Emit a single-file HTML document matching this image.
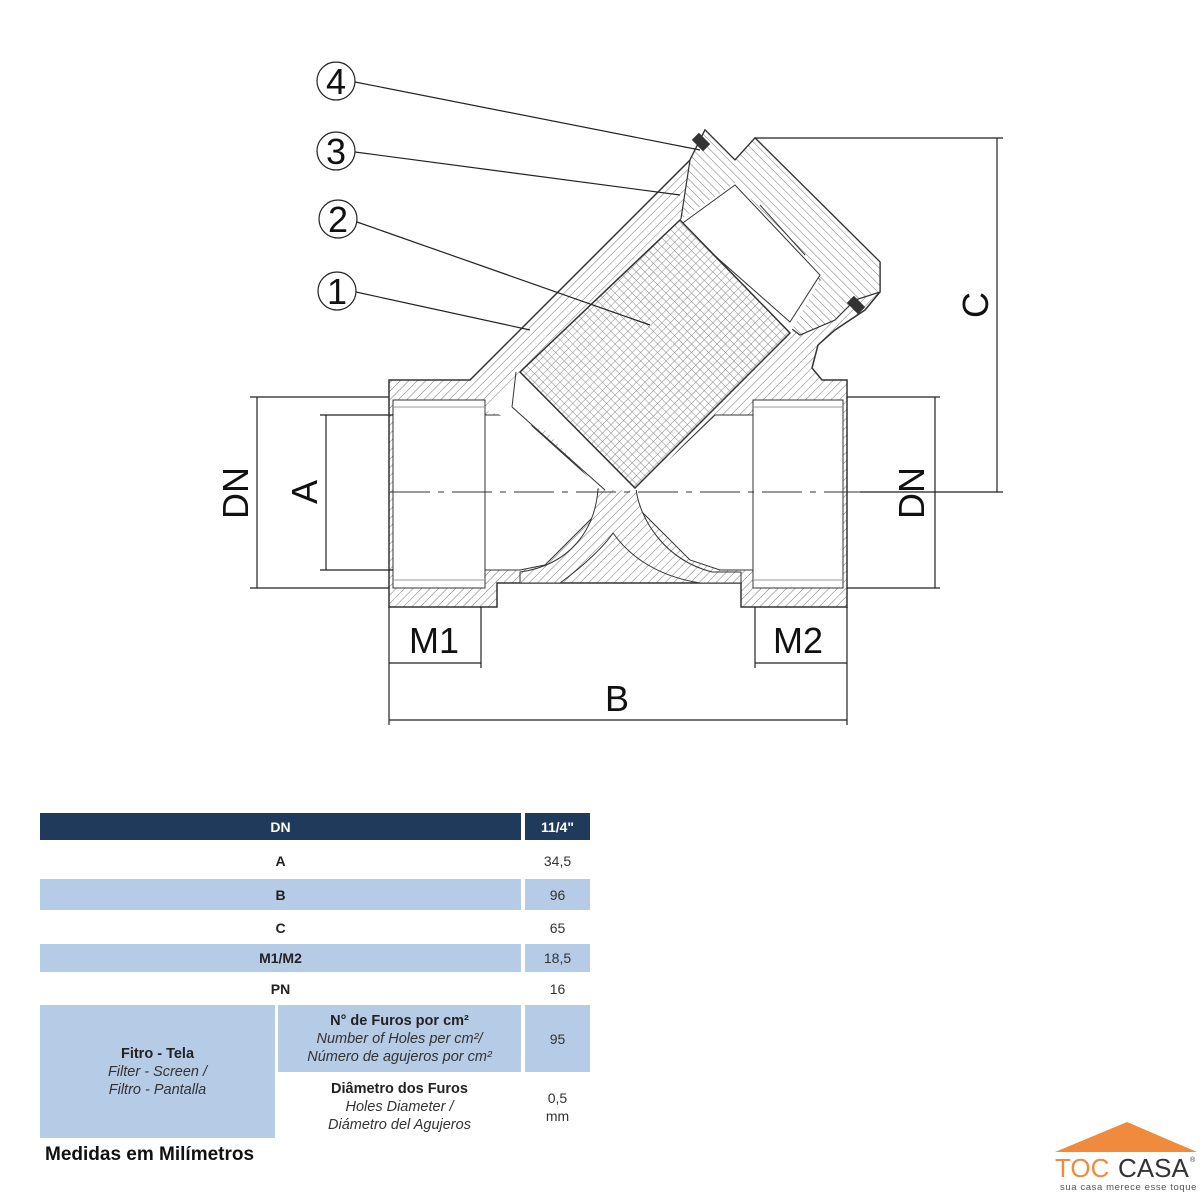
<!DOCTYPE html>
<html><head><meta charset="utf-8"><style>
body{margin:0;width:1200px;height:1200px;background:#fff;position:relative;overflow:hidden;font-family:"Liberation Sans",sans-serif}
svg{position:absolute;left:0;top:0}
.t{position:absolute;display:flex;align-items:center;justify-content:center;text-align:center;font-size:14px;color:#333;line-height:18px}
.b{font-weight:bold;color:#222}
.blue{background:#b6cbe6}
.i{font-style:italic;font-size:14.5px}
</style></head><body>
<svg width="1200" height="1200" viewBox="0 0 1200 1200">
<defs>
<pattern id="h" width="6" height="6" patternUnits="userSpaceOnUse" patternTransform="rotate(45)"><rect width="6" height="6" fill="#fff"/><line x1="0" y1="0" x2="0" y2="6" stroke="#777" stroke-width="1"/></pattern>
<pattern id="h2" width="6" height="6" patternUnits="userSpaceOnUse" patternTransform="rotate(-45)"><rect width="6" height="6" fill="#fff"/><line x1="0" y1="0" x2="0" y2="6" stroke="#777" stroke-width="1"/></pattern>
<pattern id="m" width="6" height="6" patternUnits="userSpaceOnUse" patternTransform="rotate(45)"><rect width="6" height="6" fill="#fff"/><path d="M0 0H6M0 0V6" stroke="#888" stroke-width="1"/></pattern>
</defs>
<polygon points="389,380 470,380 640,210 655,195 690,160 705,130 735,160 755,138 880,262 880,292 865,310 835,330 818,345 812,368 822,380 847,380 847,607 741,607 741,583 497,583 497,607 389,607" fill="url(#h)" stroke="#333" stroke-width="1.5"/>
<polygon points="690,160 705,130 735,160 755,138 880,262 880,292 855,300 835,320 800,335 780,320 820,280 760,215 730,220 680,225" fill="url(#h2)" stroke="#333" stroke-width="1.2"/>
<rect x="393" y="400" width="92" height="188" fill="#fff" stroke="#333"/>
<rect x="753" y="400" width="90" height="188" fill="#fff" stroke="#333"/>
<polygon points="485,415 520,415 600,487 640,487 715,415 753,415 753,570 720,570 690,560 650,520 620,490 580,530 545,565 520,570 485,570" fill="#fff" stroke="#333"/>
<path d="M598,489 C595,530 570,565 520,572 L520,583 L560,583 C585,565 605,545 613,533 C625,550 650,575 700,583 L741,583 L741,572 L712,572 C665,560 640,520 636,489 Z" fill="url(#h)" stroke="#333"/>
<polygon points="485,410 520,372 680,220 740,180 760,215 820,280 790,333 640,490 600,490 545,430" fill="#fff" stroke="none"/>
<polygon points="680,225 735,185 820,275 790,322" fill="#fff" stroke="#333"/>
<line x1="760" y1="205" x2="805" y2="255" stroke="#333"/>
<polygon points="520,372 680,220 790,333 635,488" fill="url(#m)" stroke="#333" stroke-width="1.5"/>
<line x1="516" y1="372" x2="512" y2="407" stroke="#333"/>
<line x1="512" y1="407" x2="605" y2="490" stroke="#333"/>
<rect x="693" y="137" width="16" height="10" fill="#333" transform="rotate(45 701 142)"/>
<rect x="848" y="300" width="16" height="10" fill="#333" transform="rotate(45 856 305)"/>
<line x1="393" y1="407" x2="485" y2="407" stroke="#999"/><line x1="393" y1="580" x2="485" y2="580" stroke="#999"/>
<line x1="753" y1="407" x2="843" y2="407" stroke="#999"/><line x1="753" y1="580" x2="843" y2="580" stroke="#999"/>
<line x1="390" y1="492" x2="860" y2="492" stroke="#333" stroke-dasharray="40,8,6,8"/>
<g stroke="#222" stroke-width="1.2" fill="none">
<line x1="250" y1="397" x2="389" y2="397"/><line x1="250" y1="588" x2="389" y2="588"/>
<line x1="257" y1="397" x2="257" y2="588"/>
<line x1="320" y1="415" x2="393" y2="415"/><line x1="320" y1="570" x2="393" y2="570"/>
<line x1="326" y1="415" x2="326" y2="570"/>
<line x1="847" y1="397" x2="940" y2="397"/><line x1="847" y1="588" x2="940" y2="588"/>
<line x1="935" y1="397" x2="935" y2="588"/>
<line x1="755" y1="138" x2="1003" y2="138"/><line x1="860" y1="492" x2="1003" y2="492"/>
<line x1="997" y1="138" x2="997" y2="492"/>
<line x1="389" y1="607" x2="389" y2="725"/><line x1="481" y1="607" x2="481" y2="668"/>
<line x1="755" y1="607" x2="755" y2="668"/><line x1="847" y1="607" x2="847" y2="725"/>
<line x1="389" y1="663" x2="481" y2="663"/><line x1="755" y1="663" x2="847" y2="663"/>
<line x1="389" y1="720" x2="847" y2="720"/>
<line x1="355" y1="82" x2="700" y2="150"/><line x1="355" y1="152" x2="680" y2="195"/>
<line x1="357" y1="222" x2="650" y2="325"/><line x1="356" y1="292" x2="530" y2="330"/>
<circle cx="336" cy="81" r="19"/><circle cx="336" cy="151" r="19"/><circle cx="338" cy="219" r="19"/><circle cx="337" cy="291" r="19"/>
</g>
<g fill="#111" font-family="Liberation Sans" font-size="36" text-anchor="middle">
<text x="336" y="94">4</text><text x="336" y="164">3</text><text x="338" y="232">2</text><text x="337" y="304">1</text>
<text x="434" y="653">M1</text><text x="798" y="653">M2</text><text x="617" y="711">B</text>
<text transform="translate(248,493) rotate(-90)">DN</text>
<text transform="translate(317,492) rotate(-90)">A</text>
<text transform="translate(924,493) rotate(-90)">DN</text>
<text transform="translate(988,305) rotate(-90)">C</text>
</g>
<polygon points="1055,1152 1127,1122 1197,1152" fill="#f08a3c"/>
<text x="1055" y="1177" font-size="26" fill="#f08a3c" font-family="Liberation Sans">TOC</text>
<text x="1118" y="1177" font-size="26" fill="#333" font-family="Liberation Sans">CASA</text>
<text x="1190" y="1162" font-size="7" fill="#333">®</text>
<text x="1060" y="1190" font-size="9.5" fill="#555" font-family="Liberation Sans" letter-spacing="0.6">sua casa merece esse toque</text>
</svg>
<div class="t b" style="left:40px;top:813px;width:481px;height:27px;background:#1f3a5a;color:#fff">DN</div>
<div class="t b" style="left:525px;top:813px;width:65px;height:27px;background:#1f3a5a;color:#fff">11/4"</div>
<div class="t b" style="left:40px;top:845px;width:481px;height:32px">A</div>
<div class="t" style="left:525px;top:845px;width:65px;height:32px">34,5</div>
<div class="t b blue" style="left:40px;top:879px;width:481px;height:31px">B</div>
<div class="t blue" style="left:525px;top:879px;width:65px;height:31px">96</div>
<div class="t b" style="left:40px;top:912px;width:481px;height:31px">C</div>
<div class="t" style="left:525px;top:912px;width:65px;height:31px">65</div>
<div class="t b blue" style="left:40px;top:944px;width:481px;height:28px">M1/M2</div>
<div class="t blue" style="left:525px;top:944px;width:65px;height:28px">18,5</div>
<div class="t b" style="left:40px;top:975px;width:481px;height:28px">PN</div>
<div class="t" style="left:525px;top:975px;width:65px;height:28px">16</div>
<div class="t blue" style="left:40px;top:1005px;width:235px;height:133px;flex-direction:column"><span class="b" style="font-size:14.5px">Fitro - Tela</span><span class="i">Filter - Screen /</span><span class="i">Filtro - Pantalla</span></div>
<div class="t blue" style="left:278px;top:1005px;width:243px;height:67px;flex-direction:column"><span class="b" style="font-size:14.5px">N° de Furos por cm²</span><span class="i">Number of Holes per cm²/</span><span class="i">Número de agujeros por cm²</span></div>
<div class="t blue" style="left:525px;top:1005px;width:65px;height:67px">95</div>
<div class="t" style="left:278px;top:1075px;width:243px;height:63px;flex-direction:column"><span class="b" style="font-size:14.5px">Diâmetro dos Furos</span><span class="i">Holes Diameter /</span><span class="i">Diámetro del Agujeros</span></div>
<div class="t" style="left:525px;top:1075px;width:65px;height:63px;font-size:14px">0,5<br>mm</div>
<div style="position:absolute;left:45px;top:1144px;font-size:19px;font-weight:bold;color:#111">Medidas em Milímetros</div>
</body></html>
